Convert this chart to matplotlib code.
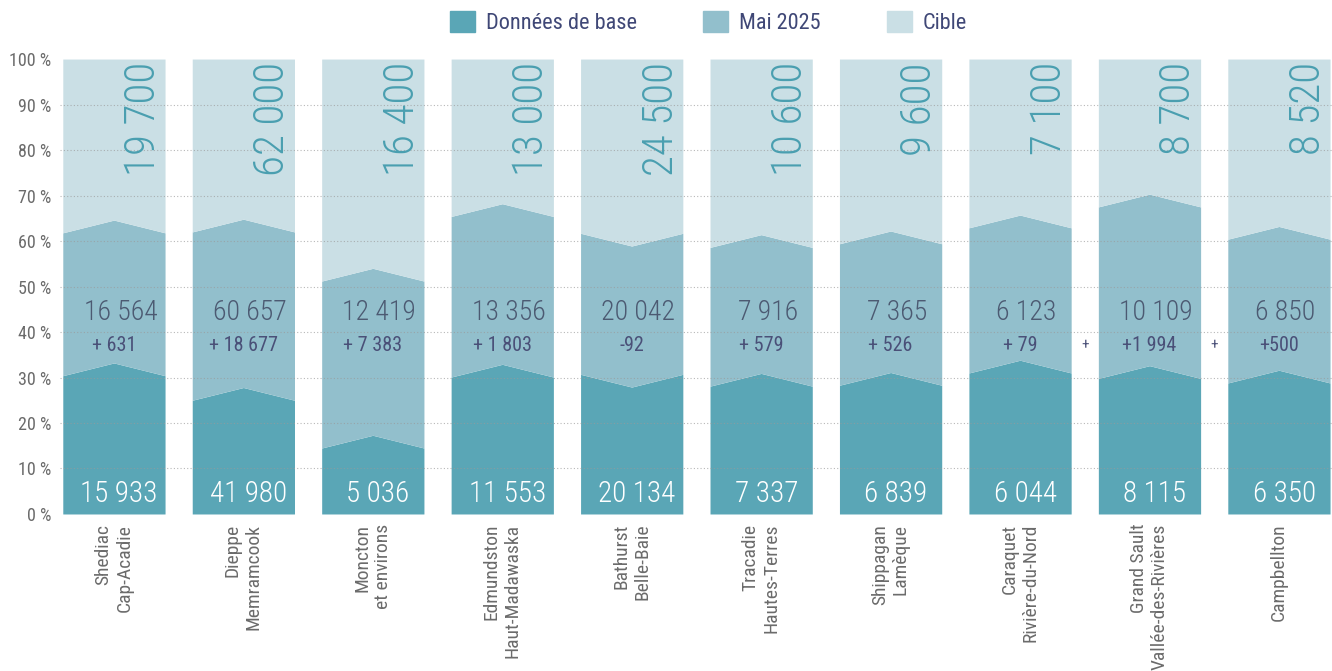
import matplotlib
matplotlib.use("Agg")
import matplotlib.pyplot as plt
from matplotlib.patches import Patch
from matplotlib import font_manager
import numpy as np

regions = [
    "Shediac\nCap-Acadie",
    "Dieppe\nMemramcook",
    "Moncton\net environs",
    "Edmundston\nHaut-Madawaska",
    "Bathurst\nBelle-Baie",
    "Tracadie\nHautes-Terres",
    "Shippagan\nLamèque",
    "Caraquet\nRivière-du-Nord",
    "Grand Sault\nVallée-des-Rivières",
    "Campbellton",
]
target_labels = ["19 700", "62 000", "16 400", "13 000", "24 500",
                 "10 600", "9 600", "7 100", "8 700", "8 520"]
mai_labels = ["16 564", "60 657", "12 419", "13 356", "20 042",
              "7 916", "7 365", "6 123", "10 109", "6 850"]
base_labels = ["15 933", "41 980", "5 036", "11 553", "20 134",
               "7 337", "6 839", "6 044", "8 115", "6 350"]
change_labels = ["+ 631", "+ 18 677", "+ 7 383", "+ 1 803", "-92",
                 "+ 579", "+ 526", "+ 79", "+1 994", "+500"]
change_values = [631, 18677, 7383, 1803, -92, 579, 526, 79, 1994, 500]

# heights (edge of each column, in %)
base_share = [30.4, 25.0, 14.5, 30.1, 30.7, 28.1, 28.3, 31.0, 29.8, 28.8]
mai_share = [61.8, 62.0, 51.2, 65.4, 61.7, 58.6, 59.4, 62.9, 67.5, 60.4]

C_BASE = "#5aa6b6"
C_MAI = "#92bfcc"
C_TARGET = "#cadfe5"
C_TARGET_TXT = "#4a9fb0"
C_MAI_TXT = "#4c5a72"
C_CHANGE_TXT = "#4a5078"
C_LEGEND_TXT = "#3f4776"
C_TICK = "#6b6b6b"

available = {f.name for f in font_manager.fontManager.ttflist}
narrow = [f for f in ["Liberation Sans Narrow", "Roboto Condensed", "Roboto"] if f in available]
FONT = narrow + ["DejaVu Sans"]
plt.rcParams["font.family"] = FONT

fig = plt.figure(figsize=(13.32, 6.71), dpi=100)
ax = fig.add_axes([0.045, 0.234, 0.955, 0.678])

width = 0.79
peak = 2.8
x = np.arange(len(regions))

for i in x:
    xs = [i - width / 2, i, i + width / 2]
    sign = 1 if change_values[i] >= 0 else -1
    b = base_share[i]
    m = mai_share[i]
    base_line = np.array([b, b + sign * peak, b])
    mai_line = np.array([m, m + sign * peak, m])
    ax.fill_between(xs, 0, base_line, color=C_BASE, lw=0, zorder=2)
    ax.fill_between(xs, base_line, mai_line, color=C_MAI, lw=0, zorder=2)
    ax.fill_between(xs, mai_line, 100, color=C_TARGET, lw=0, zorder=2)

    ax.text(i + width / 2 - 0.01, 99.3, target_labels[i], rotation=90,
            ha="right", va="top", fontsize=31, color=C_TARGET_TXT,
            fontweight="light", zorder=4)
    ax.text(i + 0.05, 44.3, mai_labels[i], ha="center", va="center",
            fontsize=20, color=C_MAI_TXT, fontweight="light", zorder=4)
    ax.text(i, 37.1, change_labels[i], ha="center", va="center",
            fontsize=14.5, color=C_CHANGE_TXT, fontweight="normal", zorder=4)
    ax.text(i + 0.04, 4.4, base_labels[i], ha="center", va="center",
            fontsize=21, color="white", fontweight="light", zorder=4)

# stray plus signs between the last columns
for xp in [7.5, 8.5]:
    ax.text(xp, 37.1, "+", ha="center", va="center", fontsize=11,
            color=C_CHANGE_TXT, zorder=4)

ax.set_xlim(-0.417, 9.41)
ax.set_ylim(0, 100)
ax.set_yticks(np.arange(0, 101, 10))
ax.set_yticklabels([f"{v} %" for v in range(0, 101, 10)], fontsize=13, color=C_TICK)
ax.set_xticks(x)
ax.set_xticklabels(regions, rotation=90, fontsize=14, color=C_TICK,
                   va="top", ha="center", multialignment="right")
ax.tick_params(length=0, pad=6)
ax.tick_params(axis="x", pad=7)
for yv in range(10, 100, 10):
    ax.axhline(yv, color="#9a9a9a", lw=0.8, ls=(0, (1, 2)), zorder=3, alpha=0.7)
for s in ax.spines.values():
    s.set_visible(False)

handles = [Patch(color=C_BASE), Patch(color=C_MAI), Patch(color=C_TARGET)]
fig.legend(handles, ["Données de base", "Mai 2025", "Cible"], ncol=3,
           loc="center", bbox_to_anchor=(0.532, 0.967), frameon=False,
           prop={"size": 16, "weight": "normal"}, labelcolor=C_LEGEND_TXT,
           handlelength=1.1, handleheight=1.1, columnspacing=3.0,
           handletextpad=0.5)

fig.savefig("out.png", dpi=100)
